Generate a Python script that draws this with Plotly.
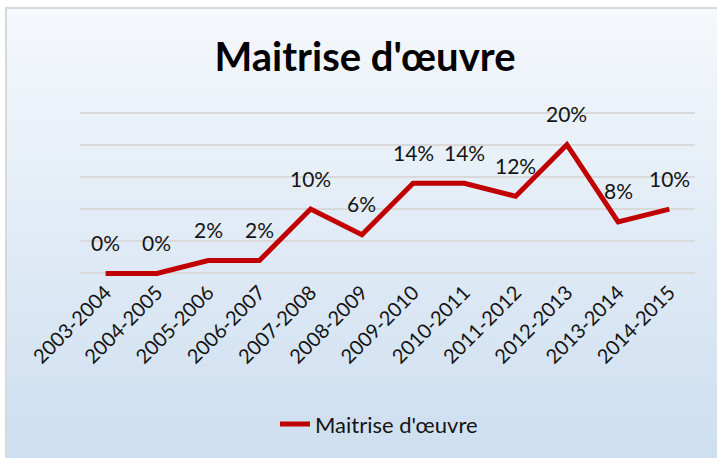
import plotly.graph_objects as go

categories = ["2003-2004", "2004-2005", "2005-2006", "2006-2007", "2007-2008", "2008-2009",
              "2009-2010", "2010-2011", "2011-2012", "2012-2013", "2013-2014", "2014-2015"]
values = [0, 0, 2, 2, 10, 6, 14, 14, 12, 20, 8, 10]
series_name = "Maitrise d'œuvre"
title_text = "Maitrise d'œuvre"

W, H = 717, 458
L, R = 80, 695
PAD = 0.4  # value-units of padding so edge gridlines are drawn
PXU = 160 / 25.0
T = 113 - PAD * PXU
B = 273 + PAD * PXU
FONT = "Lato"
TXT = "#141414"


def px_x(px):
    return (px - L) / (R - L)


def px_y(py):
    return (B - py) / (B - T)


fig = go.Figure()
fig.add_trace(go.Scatter(
    x=categories, y=values, mode="lines", name=series_name,
    line=dict(color="#C00000", width=5),
))

shapes = []
top_c = (0xF5, 0xF8, 0xFC)
bot_c = (0xCD, 0xDE, 0xF0)
y0, y1 = 9, 460
n = 60
for i in range(n):
    a = y0 + (y1 - y0) * i / n
    b = y0 + (y1 - y0) * (i + 1) / n + 0.6
    t = (i + 0.5) / n
    c = tuple(round(top_c[k] + (bot_c[k] - top_c[k]) * t) for k in range(3))
    shapes.append(dict(type="rect", xref="paper", yref="paper",
                       x0=px_x(6), x1=px_x(722), y0=px_y(a), y1=px_y(b),
                       fillcolor="rgb(%d,%d,%d)" % c, line=dict(width=0), layer="below"))
shapes.append(dict(type="rect", xref="paper", yref="paper",
                   x0=px_x(6), x1=px_x(722), y0=px_y(9), y1=px_y(463),
                   fillcolor="rgba(0,0,0,0)", line=dict(color="#D9D9D9", width=2), layer="below"))

annotations = [dict(x=c, y=v, text=f"{v}%", showarrow=False, yshift=31,
                    font=dict(family=FONT, size=21, color=TXT))
               for c, v in zip(categories, values)]

fig.update_layout(
    width=W, height=H,
    margin=dict(l=L, r=W - R, t=T, b=H - B, pad=0, autoexpand=False),
    paper_bgcolor="white",
    plot_bgcolor="rgba(0,0,0,0)",
    title=dict(text="<b>" + title_text + "</b>", x=365 / W, xanchor="center",
               y=1 - 57 / H, yanchor="middle", xref="container", yref="container",
               font=dict(family=FONT, size=40, color="#000000")),
    xaxis=dict(type="category", range=[-0.5, len(categories) - 0.5], showgrid=False,
               zeroline=False, showline=False, automargin=False,
               tickangle=-45, ticks="", tickfont=dict(family=FONT, size=20, color=TXT)),
    yaxis=dict(range=[-PAD, 25 + PAD], tick0=0, dtick=5, showgrid=True, gridcolor="#D9D9D9",
               gridwidth=2, automargin=False,
               showticklabels=False, zeroline=False, showline=False, ticks=""),
    showlegend=True,
    legend=dict(orientation="h", x=px_x(379), xanchor="center", y=px_y(423), yanchor="middle",
                bgcolor="rgba(0,0,0,0)", font=dict(family=FONT, size=22, color=TXT)),
    shapes=shapes,
    annotations=annotations,
)

fig.write_html("out.html", config={"displayModeBar": False},
               post_script="document.body.style.margin='0px';")
